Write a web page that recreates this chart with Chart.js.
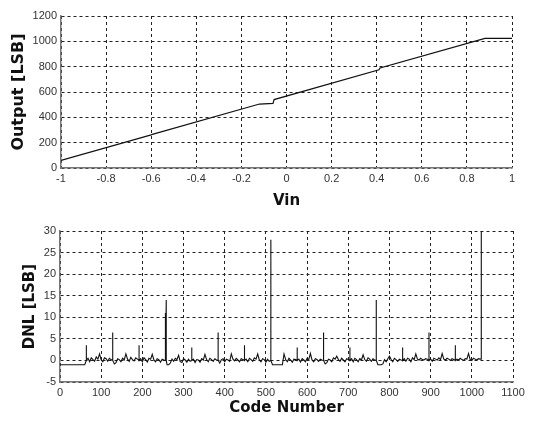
<!DOCTYPE html>
<html>
<head>
<meta charset="utf-8">
<script src="https://cdn.jsdelivr.net/npm/chart.js@4.4.1/dist/chart.umd.min.js"></script>
<style>
  body { margin: 0; background: #fff; }
  .box { position: absolute; left: 0; width: 540px; }
</style>
</head>
<body>
<div class="box" style="top:0;height:210px"><canvas id="topChart" width="540" height="210"></canvas></div>
<div class="box" style="top:215px;height:208px"><canvas id="dnlChart" width="540" height="208"></canvas></div>
<script>
// transfer curve, breakpoints
const vin    = [-1, -0.6, -0.595, -0.12, -0.06, -0.055, 0.41, 0.415, 0.88, 1];
const output = [60, 262, 266, 505, 510, 540, 775, 790, 1023, 1023];

// DNL noise floor, one value every 4 codes (16 per row = 64 codes)
const dnlStep = 4;
const dnlBase = [
  -1, -1, -1, -1, -1, -1, -1, -1, -1, -1, -1, -1, -1, -1, -1, -1,
  0, 0.5, -0.3, 0.6, 0.2, -0.2, 0.8, 0.3, 1.5, 0.1, -0.3, 0.6, 0.4, -0.2, 0.5, 0.2,
  0, -0.8, -0.5, 0.4, 0.2, -0.3, 0.5, 0.1, 1.5, 0.3, -0.2, 0.7, 0.2, -0.1, 0.6, 0.3,
  0, 0.4, -0.3, 0.6, 0.2, -0.4, 0.5, 0.3, 1.4, 0.1, -0.3, 0.4, 0.2, -0.4, 0.3, 0.1,
  0, -1, -1, -0.6, 0.3, -0.2, 0.5, 0.2, 1.2, -0.3, -0.5, 0.4, 0.1, -0.4, 0.3, -0.2,
  0, 0.3, -0.5, 0.2, 0.1, -0.4, 0.4, 0.1, 1.4, 0.2, -0.3, 0.5, 0.2, -0.2, 0.4, 0.1,
  0, -0.6, 0.2, 0.4, -0.3, 0.3, 0.1, -0.2, 1.5, 0.3, -0.1, 0.5, 0.1, -0.3, 0.4, 0.2,
  0, 0.3, -0.3, 0.5, 0.2, -0.2, 0.6, 0.3, 1.5, 0.1, -0.3, 0.4, 0.2, -0.4, 0.3, -0.2,
  0, -1, -1, -1, -1, -1, -1, -1, 1.5, 0.2, -0.3, 0.5, 0.1, -0.4, 0.3, 0.2,
  0, 0.3, -0.4, 0.4, 0.1, -0.3, 0.5, 0.2, 1.6, 0.1, -0.3, 0.4, 0.2, -0.2, 0.3, 0.1,
  0, -0.8, -0.5, 0.3, 0.1, -0.3, 0.6, 0.3, 1.0, 0.2, -0.2, 0.5, 0.1, -0.3, 0.4, 0.2,
  0, 0.4, -0.3, 0.5, 0.2, -0.3, 0.4, 0.1, 1.3, 0.2, -0.2, 0.6, 0.3, -0.2, 0.4, 0.1,
  0, -1, -1, -1, -0.8, 0.2, -0.3, 0.4, 1.0, 0.2, -0.3, 0.5, 0.2, -0.2, 0.3, 0.1,
  0, 0.4, -0.2, 0.5, 0.3, -0.3, 0.6, 0.2, 1.5, 0.3, 0.1, 0.5, 0.2, 0.1, 0.4, 0.3,
  0, 0.3, -0.2, 0.5, 0.3, 0.1, 0.6, 0.2, 1.6, 0.3, 0.1, 0.5, 0.3, 0.0, 0.4, 0.2,
  0, 0.3, 0.1, 0.5, 0.2, 0.0, 0.4, 0.3, 1.6, 0.2, 0.0, 0.5, 0.3, 0.1, 0.4, 0.3
];
// big spikes at the major carry transitions
const spikeCodes  = [64, 128, 192, 256, 258, 320, 384, 448, 512, 576, 640, 704, 768, 832, 896, 960, 1023];
const spikeValues = [3.5, 6.5, 3.5, 11, 14, 3, 6.5, 3.5, 28, 3, 6.5, 3, 14, 3, 6.5, 3.5, 40];

// build point lists
const topPts = vin.map((v, i) => ({ x: v, y: output[i] }));

let dnlPts = dnlBase.map((v, i) => ({ x: i * dnlStep, y: v, o: 0 }));
dnlPts.push({ x: 1023, y: 0.3, o: 0 });
spikeCodes.forEach((c, i) => {
  // go straight up and straight back down
  dnlPts.push({ x: c, y: spikeValues[i], o: 1 });
  if (c < 1023) dnlPts.push({ x: c, y: 0, o: 2 });
});
dnlPts.sort((a, b) => a.x - b.x || a.o - b.o);

const tickFont = { family: 'Liberation Sans, Arial', size: 11 };
const gridStyle = { color: '#222', lineWidth: 1, drawTicks: false };
const borderStyle = { color: '#777', width: 1.5, dash: [3, 3] };
const fmt = v => String(Math.round(v * 10) / 10);

function titleFont(sz) { return { family: 'DejaVu Sans', size: sz, weight: 'bold' }; }
function fixW(w) { return s => { s.width = w; }; }
function fixH(h) { return s => { s.height = h; }; }

new Chart(document.getElementById('topChart'), {
  type: 'line',
  data: { datasets: [{ data: topPts, borderColor: '#111', borderWidth: 1.2, pointRadius: 0, tension: 0 }] },
  options: {
    responsive: false, animation: false,
    layout: { padding: { top: 16, right: 28 } },
    plugins: { legend: { display: false }, tooltip: { enabled: false } },
    scales: {
      x: {
        type: 'linear', min: -1, max: 1,
        ticks: { stepSize: 0.2, color: '#333', font: tickFont, padding: 4, callback: fmt },
        grid: gridStyle, border: borderStyle,
        title: { display: true, text: 'Vin', color: '#111', font: titleFont(15), padding: { top: 4, bottom: 0 } },
        afterFit: fixH(42)
      },
      y: {
        min: 0, max: 1200,
        ticks: { stepSize: 200, color: '#333', font: tickFont, padding: 4, callback: fmt },
        grid: gridStyle, border: borderStyle,
        title: { display: true, text: 'Output [LSB]', color: '#111', font: titleFont(16), padding: { top: 9, bottom: 4 } },
        afterFit: fixW(61)
      }
    }
  }
});

new Chart(document.getElementById('dnlChart'), {
  type: 'line',
  data: { datasets: [{ data: dnlPts, borderColor: '#111', borderWidth: 1.1, pointRadius: 0, tension: 0 }] },
  options: {
    responsive: false, animation: false,
    layout: { padding: { top: 16, right: 27 } },
    plugins: { legend: { display: false }, tooltip: { enabled: false } },
    scales: {
      x: {
        type: 'linear', min: 0, max: 1100,
        ticks: { stepSize: 100, color: '#333', font: tickFont, padding: 4, callback: fmt },
        grid: gridStyle, border: borderStyle,
        title: { display: true, text: 'Code Number', color: '#111', font: titleFont(15), padding: { top: 4, bottom: 6 } },
        afterFit: fixH(41)
      },
      y: {
        min: -5, max: 30,
        ticks: { stepSize: 5, color: '#333', font: tickFont, padding: 4, callback: fmt },
        grid: gridStyle, border: borderStyle,
        title: { display: true, text: 'DNL [LSB]', color: '#111', font: titleFont(15), padding: { top: 21, bottom: 4 } },
        afterFit: fixW(60)
      }
    }
  }
});
</script>
</body>
</html>
